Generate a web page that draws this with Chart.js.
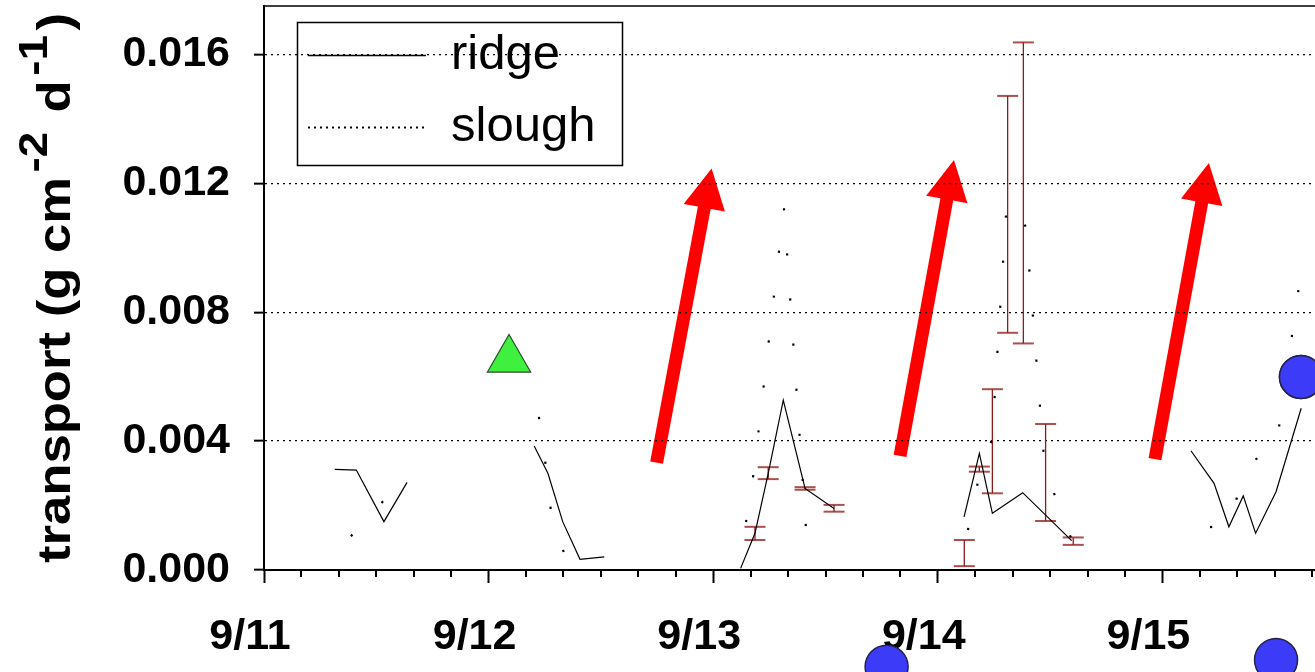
<!DOCTYPE html>
<html>
<head>
<meta charset="utf-8">
<title>transport</title>
<script src="https://cdn.jsdelivr.net/npm/chart.js@4.4.1/dist/chart.umd.min.js"></script>
<style>
  html, body { margin: 0; padding: 0; background: #fff; overflow: hidden; }
  #wrap { position: absolute; left: 0; top: 0; width: 1460px; height: 700px; }
</style>
</head>
<body>
<div id="wrap"><canvas id="chart"></canvas></div>
<script>
// axis ticks (x = day of September)
const xTickVals = [11, 12, 13, 14, 15, 16];
const xTickLabels = ['9/11', '9/12', '9/13', '9/14', '9/15', '9/16'];
const yTickVals = [0, 0.004, 0.008, 0.012, 0.016];
const yTickLabels = ['0.000', '0.004', '0.008', '0.012', '0.016'];
const yTitleParts = [['transport (g cm', false], ['-2', true], [' d', false], ['-1', true], [')', false]];

// ridge (solid), null value = gap between days
const ridgeTime = [11.315, 11.411, 11.534, 11.637, 11.9,
  12.203, 12.264, 12.330, 12.407, 12.515, 12.8,
  13.122, 13.186, 13.245, 13.312, 13.409, 13.538, 13.8,
  14.117, 14.185, 14.243, 14.378, 14.596, 14.9,
  15.127, 15.230, 15.296, 15.360, 15.415, 15.506, 15.618];
const ridgeValue = [0.00312, 0.00310, 0.00150, 0.00272, null,
  0.00385, 0.00300, 0.00150, 0.00033, 0.00041, null,
  0.00005, 0.00114, 0.00300, 0.00527, 0.00253, 0.00191, null,
  0.00165, 0.00362, 0.00176, 0.00240, 0.00091, null,
  0.00370, 0.00269, 0.00134, 0.00230, 0.00114, 0.00243, 0.00502];

// slough (dotted)
const sloughTime = [11.387, 11.539, 11.637, 11.9,
  12.224, 12.256, 12.278, 12.340, 12.407, 12.496, 12.8,
  13.146, 13.182, 13.315, 13.413, 13.538, 13.8,
  14.134, 14.197, 14.241, 14.304, 14.348, 14.393, 14.477, 14.531, 14.598, 14.9,
  15.212, 15.296, 15.359, 15.417, 15.506, 15.617];
const sloughValue = [0.00105, 0.00220, 0.00254, null,
  0.00475, 0.00316, 0.00180, 0.00043, 0.00031, 0.00012, null,
  0.00149, 0.00310, 0.01123, 0.00130, 0.00047, null,
  0.00124, 0.00335, 0.00403, 0.01105, 0.01145, 0.01061, 0.00310, 0.00214, 0.00090, null,
  0.00133, 0.00140, 0.00289, 0.00344, 0.00379, 0.00925];

// error bars
const errTime = [13.186, 13.245, 13.409, 13.538, 14.118, 14.185, 14.243, 14.311, 14.381, 14.480, 14.603];
const errLow  = [0.00093, 0.00282, 0.00249, 0.00181, 0.00012, 0.00305, 0.00238, 0.00736, 0.00703, 0.00152, 0.00078];
const errHigh = [0.00134, 0.00319, 0.00257, 0.00202, 0.00093, 0.00321, 0.00561, 0.01471, 0.01637, 0.00453, 0.00101];

// markers
const triTime = [12.091];
const triValue = [0.00653];
const circTime = [13.772, 15.506, 15.617];
const circValue = [-0.00300, -0.00279, 0.00599];

// red arrows: tail -> tip
const arrowTailTime = [12.748, 13.832, 14.967];
const arrowTailValue = [0.00333, 0.00354, 0.00344];
const arrowTipTime = [12.993, 14.072, 15.207];
const arrowTipValue = [0.01246, 0.01272, 0.01263];

const fam = "'Liberation Sans', Arial, sans-serif";
Chart.defaults.font.family = fam;
Chart.defaults.color = '#000';

function pairs(xs, ys) {
  return xs.map((x, i) => ({x: x, y: ys[i]}));
}

function errorData() {
  const out = [];
  errTime.forEach((t, i) => {
    out.push({x: t, y: errLow[i]}, {x: t, y: errHigh[i]}, {x: t, y: null});
  });
  return out;
}

// arrows go under the grid lines
const arrowPlugin = {
  id: 'arrows',
  beforeDraw(chart) {
    const {ctx, scales: {x, y}} = chart;
    const shaft = 13, headW = 42, headL = 40;
    ctx.save();
    ctx.fillStyle = '#ff0000';
    arrowTailTime.forEach((t, i) => {
      const x0 = x.getPixelForValue(t), y0 = y.getPixelForValue(arrowTailValue[i]);
      const x1 = x.getPixelForValue(arrowTipTime[i]), y1 = y.getPixelForValue(arrowTipValue[i]);
      const len = Math.hypot(x1 - x0, y1 - y0);
      const ux = (x1 - x0) / len, uy = (y1 - y0) / len;
      const px = -uy, py = ux;
      const bx = x1 - ux * headL, by = y1 - uy * headL;
      ctx.beginPath();
      ctx.moveTo(x0 + px * shaft / 2, y0 + py * shaft / 2);
      ctx.lineTo(bx + px * shaft / 2, by + py * shaft / 2);
      ctx.lineTo(bx + px * headW / 2, by + py * headW / 2);
      ctx.lineTo(x1, y1);
      ctx.lineTo(bx - px * headW / 2, by - py * headW / 2);
      ctx.lineTo(bx - px * shaft / 2, by - py * shaft / 2);
      ctx.lineTo(x0 - px * shaft / 2, y0 - py * shaft / 2);
      ctx.closePath();
      ctx.fill();
    });
    ctx.restore();
  }
};

// circle markers below the axis fall outside the chart area, so chart.js
// skips them; draw their elements again without the area check
const offAreaPlugin = {
  id: 'offArea',
  afterDatasetsDraw(chart) {
    const meta = chart.getDatasetMeta(4);
    meta.data.forEach(el => el.draw(chart.ctx));
  }
};

// frame, minor ticks, legend box and y title
const decorPlugin = {
  id: 'decor',
  afterDraw(chart) {
    const {ctx, chartArea: a, scales: {x}} = chart;
    ctx.save();
    ctx.strokeStyle = '#000';

    // top and right frame
    ctx.lineWidth = 1.5;
    ctx.beginPath();
    ctx.moveTo(a.left, a.top);
    ctx.lineTo(a.right, a.top);
    ctx.lineTo(a.right, a.bottom);
    ctx.stroke();

    // minor x ticks every 4 hours
    ctx.lineWidth = 2;
    for (let k = 1; k < (x.max - x.min) * 6; k++) {
      if (k % 6 === 0) continue;
      const px = Math.round(x.getPixelForValue(x.min + k / 6));
      ctx.beginPath();
      ctx.moveTo(px, a.bottom);
      ctx.lineTo(px, a.bottom + 7);
      ctx.stroke();
    }

    // legend
    ctx.lineWidth = 1.5;
    ctx.strokeRect(297.5, 22.5, 325, 143);
    const rows = [55, 127];
    [0, 1].forEach(i => {
      const ds = chart.data.datasets[i];
      ctx.lineWidth = i === 0 ? 1.5 : 2;
      ctx.setLineDash(i === 0 ? [] : [2, 4]);
      ctx.beginPath();
      ctx.moveTo(308, rows[i] + 0.5);
      ctx.lineTo(426, rows[i] + 0.5);
      ctx.stroke();
      ctx.setLineDash([]);
      ctx.fillStyle = '#000';
      ctx.font = '49px ' + fam;
      ctx.textBaseline = 'middle';
      ctx.textAlign = 'left';
      ctx.fillText(ds.label, 451, rows[i]);
    });

    // y title with superscripts
    ctx.translate(70, (a.top + a.bottom) / 2);
    ctx.rotate(-Math.PI / 2);
    ctx.textBaseline = 'alphabetic';
    ctx.textAlign = 'left';
    const gap = 4;
    let total = 0;
    const widths = yTitleParts.map(([t, sup]) => {
      ctx.font = (sup ? 'bold 40px ' : 'bold 46px ') + fam;
      const w = ctx.measureText(t).width + (sup ? 2 * gap : 0);
      total += w;
      return w;
    });
    ctx.scale(550 / total, 1);
    let pos = -total / 2;
    yTitleParts.forEach(([t, sup], i) => {
      ctx.font = (sup ? 'bold 40px ' : 'bold 46px ') + fam;
      ctx.fillText(t, pos + (sup ? gap : 0), sup ? -23 : 0);
      pos += widths[i];
    });
    ctx.restore();
  }
};

new Chart(document.getElementById('chart'), {
  type: 'line',
  data: {
    datasets: [
      {
        label: 'ridge',
        data: pairs(ridgeTime, ridgeValue),
        borderColor: '#000',
        borderWidth: 1.2,
        pointRadius: 0,
        spanGaps: false
      },
      {
        label: 'slough',
        data: pairs(sloughTime, sloughValue),
        borderColor: '#000',
        borderWidth: 2.2,
        borderDash: [2.2, 43],
        pointRadius: 0,
        spanGaps: false
      },
      {
        label: 'error',
        data: errorData(),
        borderColor: '#8c1c1c',
        borderWidth: 1.3,
        pointStyle: 'line',
        pointRadius: 10.5,
        pointBorderColor: 'rgba(150, 35, 35, 0.8)',
        pointBorderWidth: 2,
        spanGaps: false
      },
      {
        label: 'triangle',
        type: 'scatter',
        data: pairs(triTime, triValue),
        pointStyle: 'triangle',
        pointRadius: 25,
        backgroundColor: '#3ff03f',
        borderColor: '#2a4a2a',
        borderWidth: 1.2,
        clip: false
      },
      {
        label: 'circles',
        type: 'scatter',
        data: pairs(circTime, circValue),
        pointStyle: 'circle',
        pointRadius: 21.5,
        backgroundColor: '#3b3bf8',
        borderColor: '#23234a',
        borderWidth: 1.5,
        clip: false
      }
    ]
  },
  options: {
    responsive: true,
    maintainAspectRatio: false,
    animation: false,
    events: [],
    layout: { autoPadding: false, padding: { left: 0, top: 6, right: 73, bottom: 0 } },
    plugins: { legend: { display: false }, tooltip: { enabled: false } },
    scales: {
      x: {
        type: 'linear',
        min: 11,
        max: 16,
        z: 1,
        afterBuildTicks: s => { s.ticks = xTickVals.map(v => ({value: v})); },
        afterFit: s => { s.height = 130; s.paddingLeft = 0; s.paddingRight = 0; },
        ticks: {
          callback: (v, i) => xTickLabels[i],
          font: { size: 43, weight: 'bold' },
          color: '#000',
          padding: 28,
          labelOffset: -14,
          maxRotation: 0,
          autoSkip: false
        },
        grid: { drawOnChartArea: false, drawTicks: true, tickLength: 13, tickWidth: 2, tickColor: '#000' },
        border: { display: true, color: '#000', width: 2 }
      },
      y: {
        type: 'linear',
        min: 0,
        max: 0.0175,
        afterBuildTicks: s => { s.ticks = yTickVals.map(v => ({value: v})); },
        afterFit: s => { s.width = 264; s.paddingTop = 0; s.paddingBottom = 0; },
        ticks: {
          callback: (v, i) => yTickLabels[i],
          font: { size: 43, weight: 'bold' },
          color: '#000',
          padding: 24
        },
        grid: { color: '#000', lineWidth: 1.3, drawTicks: true, tickLength: 10, tickWidth: 2, tickColor: '#000', tickBorderDash: [] },
        border: { display: true, color: '#000', width: 2, dash: [2, 4] }
      }
    }
  },
  plugins: [arrowPlugin, offAreaPlugin, decorPlugin]
});
</script>
</body>
</html>
